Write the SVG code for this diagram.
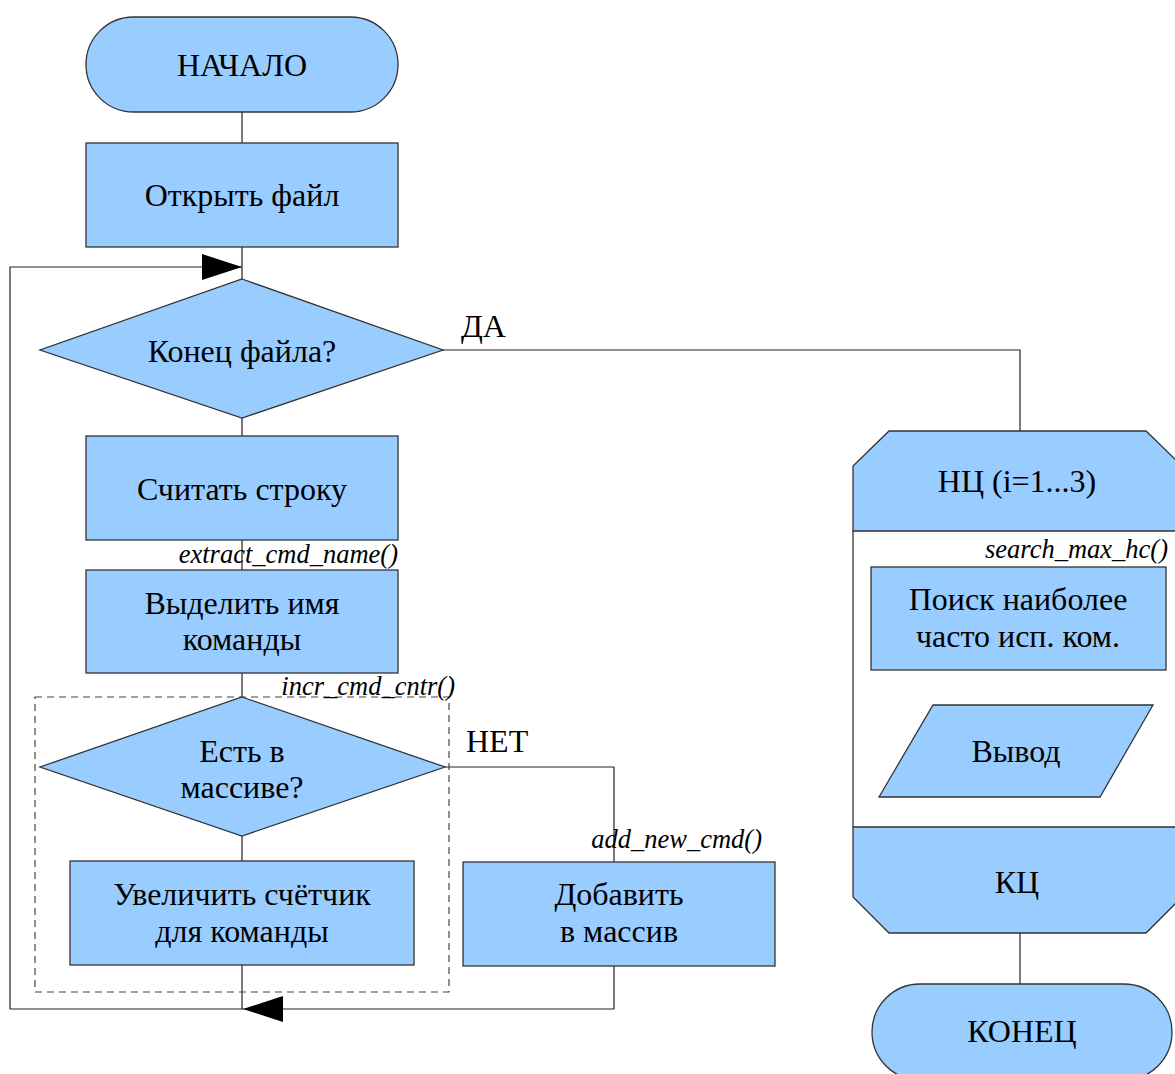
<svg xmlns="http://www.w3.org/2000/svg" width="1175" height="1074" viewBox="0 0 1175 1074">
<style>
.n{fill:#99ccff;stroke:#333333;stroke-width:1.3}
.t,.l,.i{font-family:'Liberation Serif','Tinos','Times New Roman','DejaVu Serif',serif;fill:#000}
.t{font-size:32px;text-anchor:middle}
.l{font-size:32px}
.i{font-size:26.5px;font-style:italic;text-anchor:end}
.c{fill:none;stroke:#222;stroke-width:1.2}
</style>
<rect width="1175" height="1074" fill="#fff"/>
<g id="connectors">
<path class="c" d="M242 112V143M242 247V279M242 418V436M242 540V570M242 673V697M242 836V861M242 965V1009"/>
<path class="c" d="M242 1009H10V267H242"/>
<path class="c" d="M614 966V1009H242"/>
<path class="c" d="M443 350H1020V431"/>
<path class="c" d="M445 767H614V862"/>
<path class="c" d="M1020 933V984"/>
<polygon points="242,267 202,254 202,280" fill="#000"/>
<polygon points="243,1009 283,996 283,1022" fill="#000"/>
</g>
<rect id="group-incr" x="35" y="697" width="414" height="295" fill="none" stroke="#444" stroke-width="1.2" stroke-dasharray="7,5"/>
<g id="start"><rect class="n" x="86" y="17" width="312" height="95" rx="47.5"/><text class="t" x="242" y="76">НАЧАЛО</text></g>
<g id="open"><rect class="n" x="86" y="143" width="312" height="104"/><text class="t" x="242" y="206">Открыть файл</text></g>
<g id="eof"><polygon class="n" points="242,279 443,350 242,418 40,350"/><text class="t" x="242" y="362">Конец файла?</text></g>
<g id="read"><rect class="n" x="86" y="436" width="312" height="104"/><text class="t" x="242" y="500">Считать строку</text></g>
<g id="extract"><rect class="n" x="86" y="570" width="312" height="103"/><text class="t" x="242" y="614">Выделить имя</text><text class="t" x="242" y="650">команды</text><text class="i" x="398" y="563">extract_cmd_name()</text></g>
<g id="exists"><polygon class="n" points="242,697 445,767 242,836 40,767"/><text class="t" x="242" y="762">Есть в</text><text class="t" x="242" y="798">массиве?</text><text class="i" x="455" y="695">incr_cmd_cntr()</text></g>
<g id="incr"><rect class="n" x="70" y="861" width="344" height="104"/><text class="t" x="242" y="905">Увеличить счётчик</text><text class="t" x="242" y="942">для команды</text></g>
<g id="add"><rect class="n" x="463" y="862" width="312" height="104"/><text class="t" x="619" y="905">Добавить</text><text class="t" x="619" y="942">в массив</text><text class="i" x="762" y="848">add_new_cmd()</text></g>
<text class="l" x="461" y="337">ДА</text>
<text class="l" x="466" y="752">НЕТ</text>
<g id="loop-start"><path class="n" d="M853 531V466L889 431H1146L1182 466V531Z"/><path d="M853 531V827" class="c"/><text class="t" x="1017" y="492">НЦ (i=1...3)</text></g>
<g id="search"><rect class="n" x="871" y="567" width="295" height="103"/><text class="t" x="1018" y="610">Поиск наиболее</text><text class="t" x="1018" y="647">часто исп. ком.</text><text class="i" x="1168" y="558">search_max_hc()</text></g>
<g id="output"><polygon class="n" points="933,705 1153,705 1100,797 879,797"/><text class="t" x="1016" y="762">Вывод</text></g>
<g id="loop-end"><path class="n" d="M853 827V897L889 933H1146L1182 897V827Z"/><text class="t" x="1017" y="893">КЦ</text></g>
<g id="end"><rect class="n" x="872" y="984" width="300" height="96" rx="48"/><text class="t" x="1022" y="1042">КОНЕЦ</text></g>
</svg>
